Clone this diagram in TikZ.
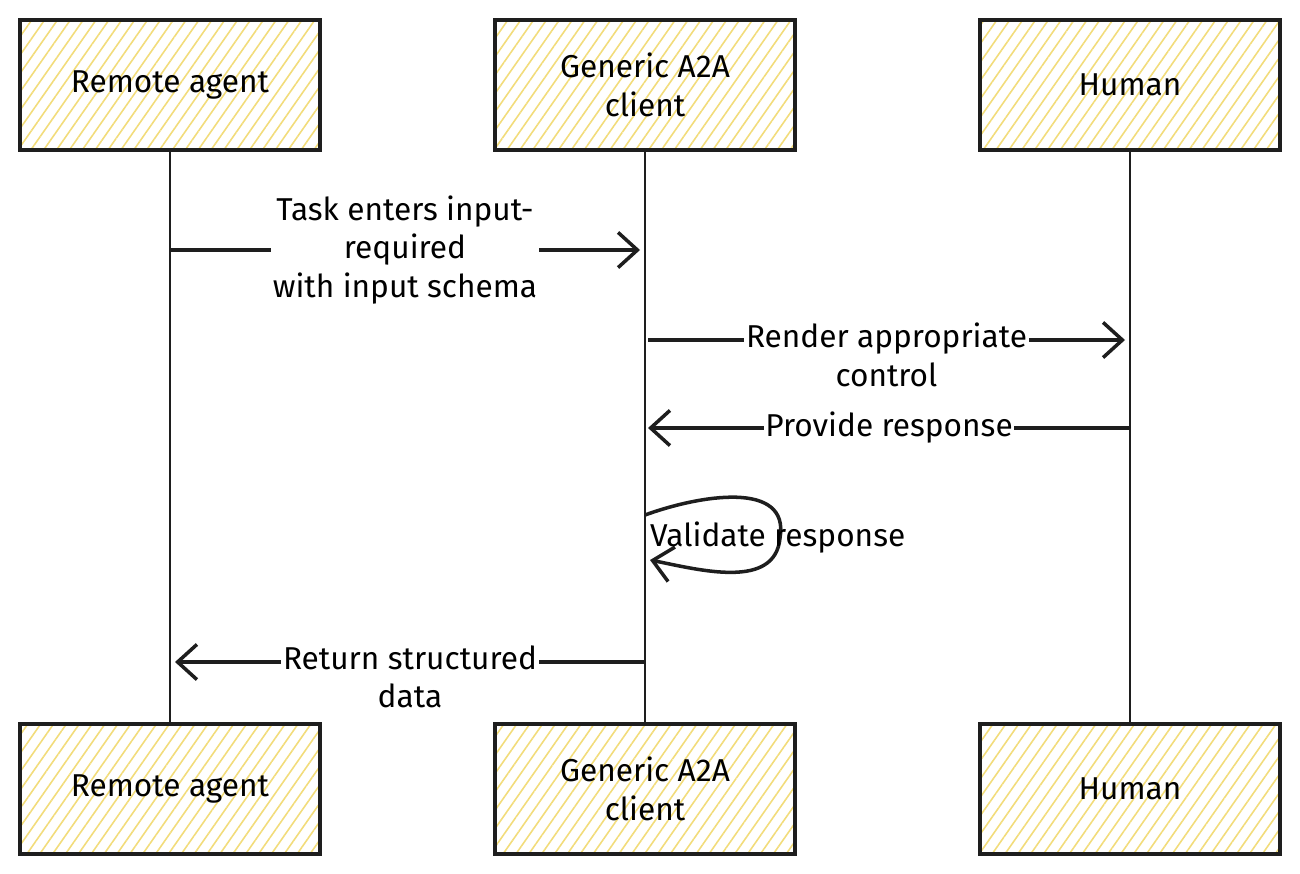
\documentclass[tikz,border=0pt]{standalone}
\usepackage{fontspec}
\setmainfont{Fira Sans}
\usetikzlibrary{patterns.meta}
\usetikzlibrary{positioning}
\usetikzlibrary{arrows.meta}
\definecolor{hatch}{HTML}{F2DC7A}
\definecolor{ink}{HTML}{1E1E1E}
\tikzset{
	actor/.style={draw=ink, line width=1.8pt, rectangle, minimum width=6cm, minimum height=2.6cm, align=center, font=\fontsize{18}{22}\selectfont,
		pattern={Lines[angle=55, distance=6pt, line width=0.9pt]}, pattern color=hatch},
	life/.style={draw=ink, line width=0.7pt},
	msg/.style={draw=ink, line width=2pt, -{Straight Barb[length=11pt, width=20pt, line width=2pt]}},
	lbl/.style={fill=white, align=center, font=\fontsize{18}{22}\selectfont, inner sep=1pt}
}
\begin{document}
\begin{tikzpicture}[x=0.02cm, y=-0.02cm]
	\useasboundingbox (0,0) rectangle (1300,874);

	% actors, top and bottom
	\foreach \name/\x/\txt in {ra/170/Remote agent, gc/645/Generic A2A\\client, hu/1130/Human}
	{
		\node [actor] at (\x,85) (\name_top){\txt};
		\node [actor] at (\x,789) (\name_bot){\txt};
		\draw [life] (\name_top) -- (\name_bot);
	}

	% message anchors
	\coordinate (m1a) at (170,250);
	\coordinate (m1b) at (640,250);
	\coordinate (m2a) at (648,340);
	\coordinate (m2b) at (1125,340);
	\coordinate (m3a) at (1130,428);
	\coordinate (m3b) at (648,428);
	\coordinate (m4a) at (645,515);
	\coordinate (m4b) at (650,560);
	\coordinate (m5a) at (645,662);
	\coordinate (m5b) at (175,662);

	\draw [msg] (m1a) -- node [lbl] {Task enters input-\\required\\with input schema} (m1b);
	\draw [msg] (m2a) -- node [lbl, yshift=-0.3cm] {Render appropriate\\control} (m2b);
	\draw [msg] (m3a) -- node [lbl] {Provide response} (m3b);
	\draw [msg] (m4a) .. controls (700,495) and (790,480) .. (780,538) .. controls (775,590) and (700,570) .. (m4b);
	\node [font=\fontsize{18}{22}\selectfont, anchor=west, inner sep=1pt] at (648,538) (val){Validate response};
	\draw [msg] (m5a) -- node [lbl, yshift=-0.3cm] {Return structured\\data} (m5b);
\end{tikzpicture}
\end{document}
